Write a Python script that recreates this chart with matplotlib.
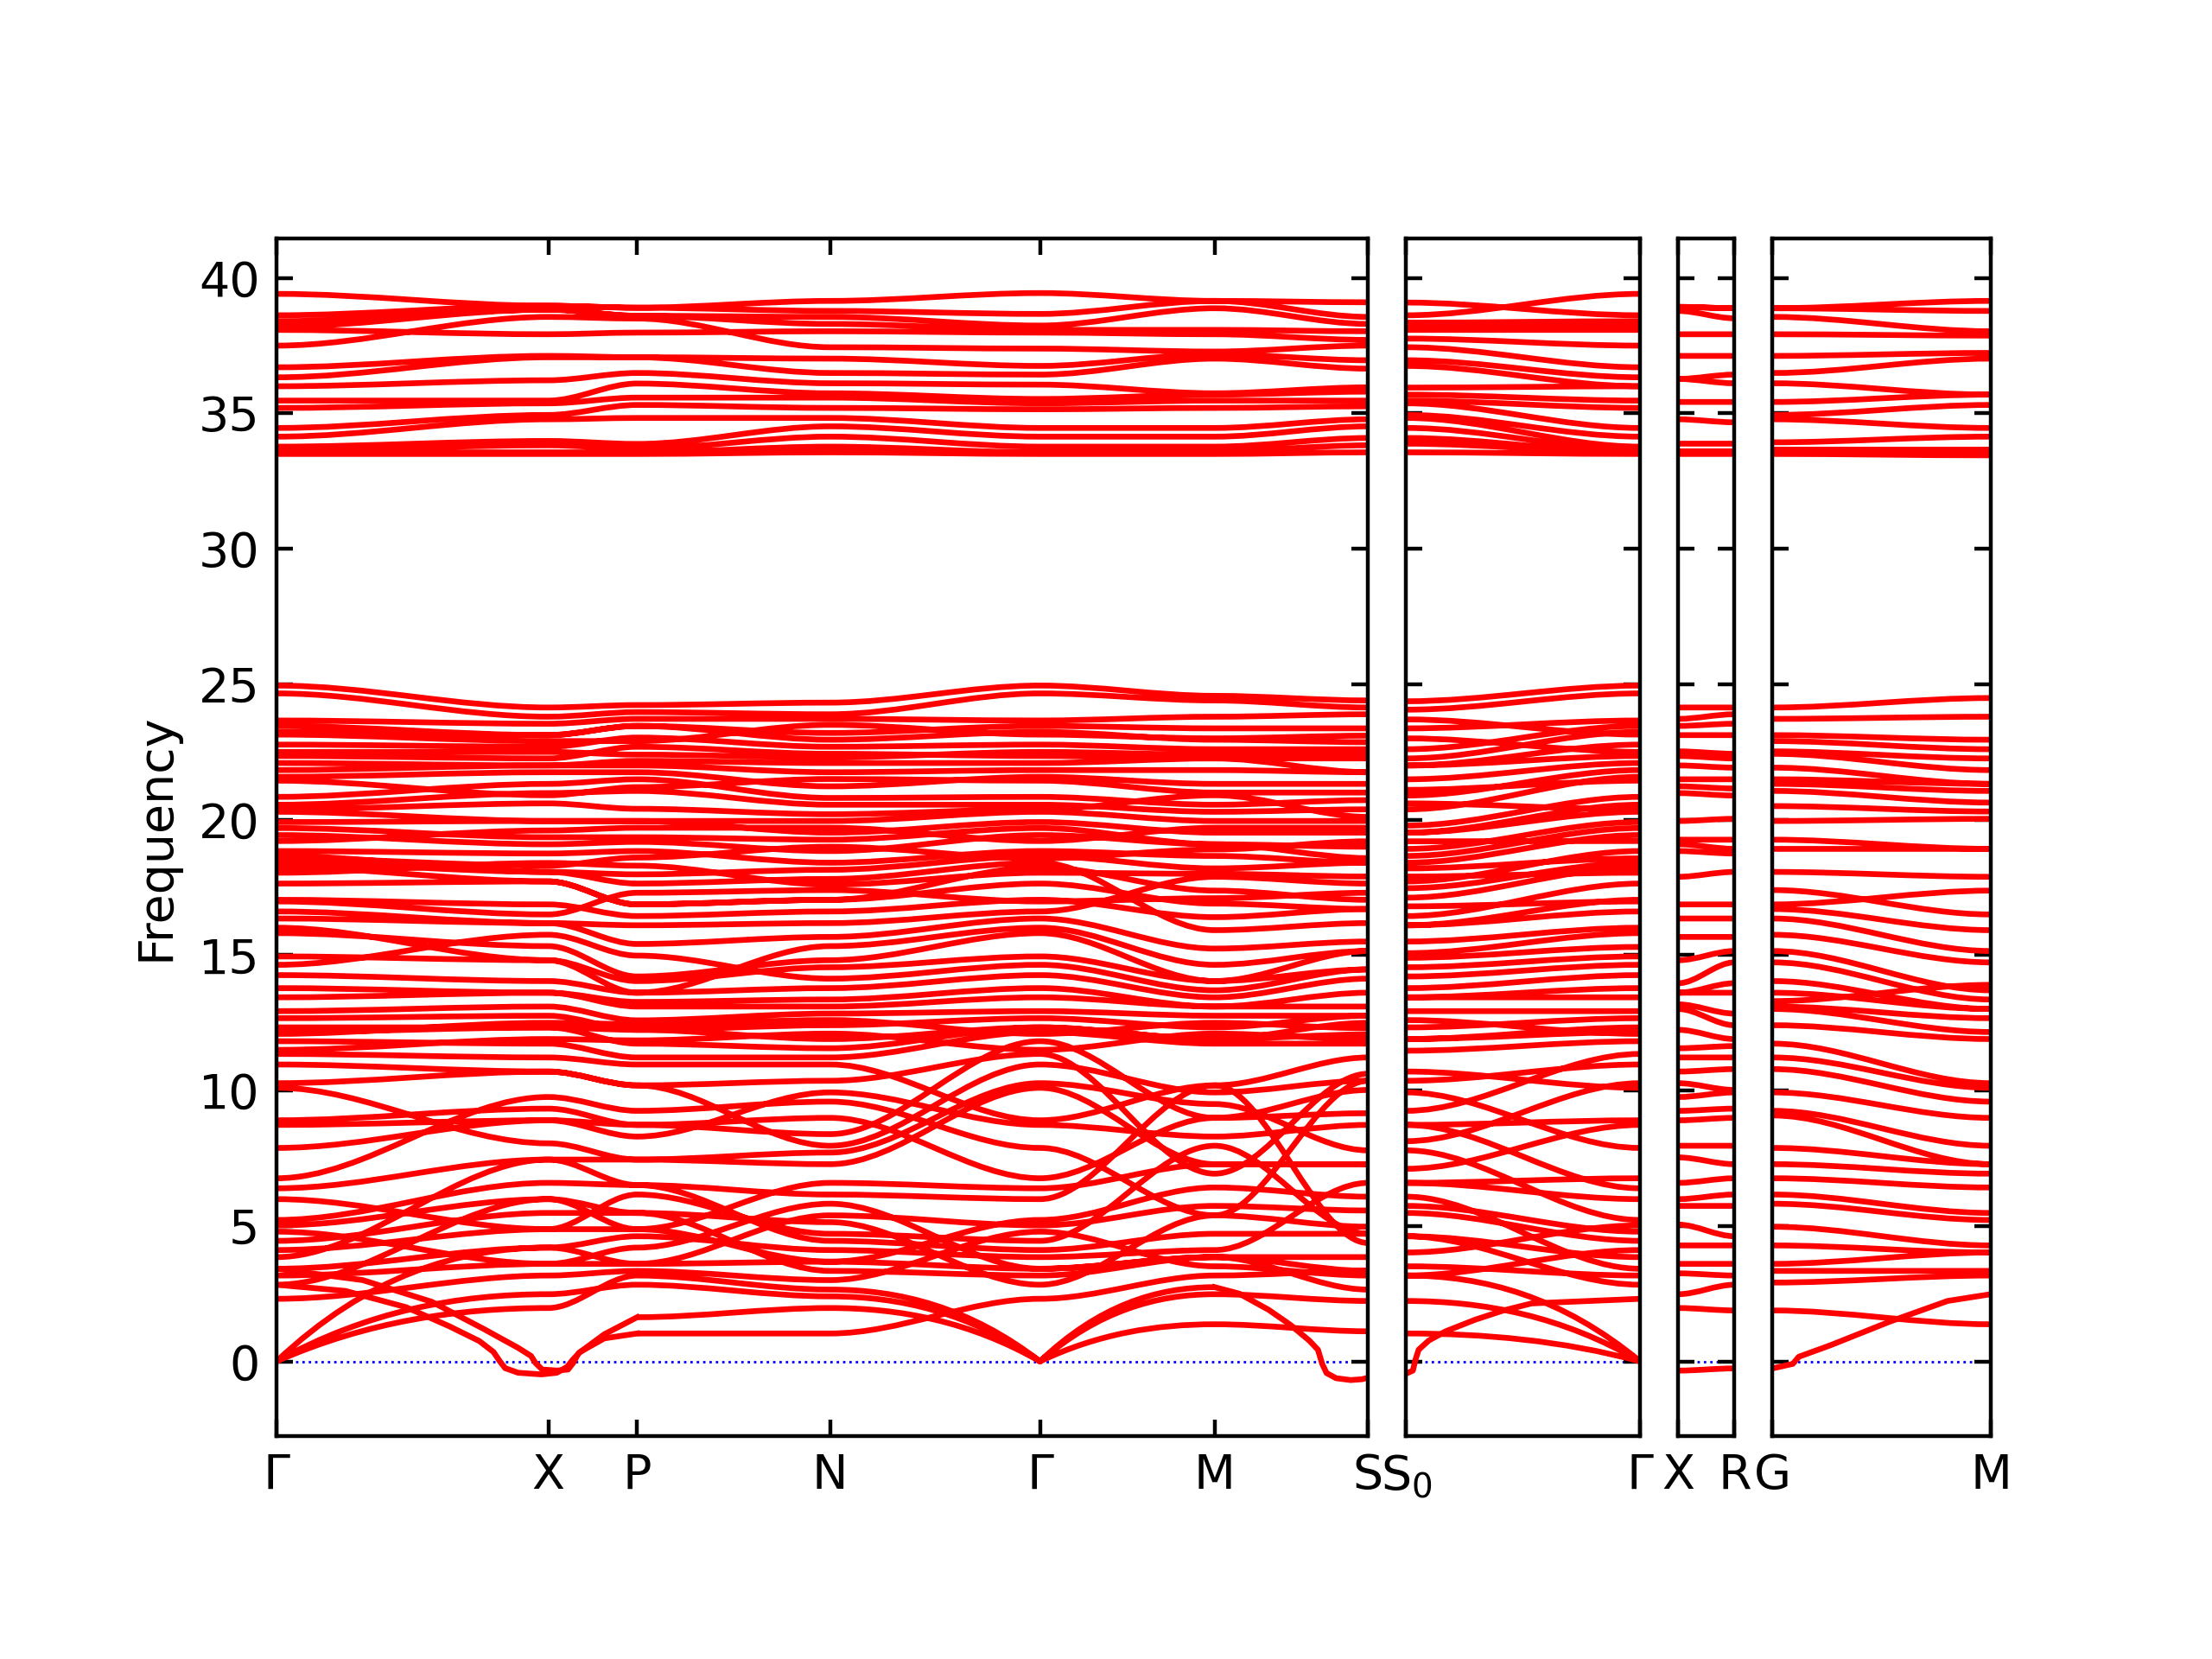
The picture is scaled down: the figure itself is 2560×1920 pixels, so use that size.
import matplotlib
matplotlib.use("Agg")
import matplotlib.pyplot as plt
from matplotlib.gridspec import GridSpec
from matplotlib.path import Path
from matplotlib.patches import PathPatch

nan = float("nan")

# ---------------- high-symmetry points (path distance) and labels ----------------
P1_TICKS = [0.0, 0.193, 0.256, 0.393, 0.542, 0.666, 0.775]
P1_LABELS = ["Γ", "X", "P", "N", "Γ", "M", "S"]
P2_TICKS = [0.0, 0.166]
P2_LABELS = ["S$_0$", "Γ"]
P3_TICKS = [0.0, 0.040]
P3_LABELS = ["X", "R"]
P4_TICKS = [0.0, 0.155]
P4_LABELS = ["G", "M"]

# ---------------- panel 1 bands: frequency at Γ, X, P, N, Γ, M, S ----------------
P1_BANDS = [
    [nan, nan, 1.03, 1.03, 2.31, 3.17, 3.34],
    [nan, nan, 1.63, 1.97, 0.0, 1.37, 1.11],
    [0.0, 2.48, 2.83, 2.40, 0.0, 2.74, nan],
    [0.0, 1.97, 3.17, 2.65, 0.0, 2.48, 2.23],
    [0.0, 4.20, 3.60, 3.68, 3.42, 3.85, 2.65],
    [2.31, 3.17, 3.34, 3.00, 4.79, 3.51, 3.17],
    [2.83, 5.99, 5.48, 3.34, 3.17, 3.85, 3.34],
    [3.17, 3.60, 4.20, 5.82, 3.42, 3.85, 3.85],
    [3.42, 4.20, 4.62, 4.11, 3.85, 4.11, 6.59],
    [3.85, 7.45, 6.51, 4.45, 4.11, 4.71, 4.71],
    [4.11, 4.88, 6.16, 4.71, 4.45, 7.96, 4.71],
    [4.45, 5.48, 5.48, 5.14, 2.83, 5.39, 4.97],
    [4.79, 3.60, 3.60, 5.39, 5.02, 5.74, 5.57],
    [5.02, 5.99, 4.88, 3.68, 5.22, 6.42, 6.08],
    [5.22, 6.59, 6.51, 6.16, 5.99, 10.19, 4.37],
    [5.99, 4.88, 4.88, 6.59, 6.39, 7.28, 7.28],
    [6.39, 7.45, 7.45, 7.28, 10.10, 7.28, 7.28],
    [6.76, 9.76, 9.25, 9.59, 7.88, 5.39, 10.36],
    [7.88, 8.90, 8.30, 9.93, 8.73, 8.30, 8.73],
    [8.73, 8.90, 8.73, 8.39, 11.82, 8.99, 9.16],
    [8.90, 9.33, 8.73, 8.99, 6.76, 8.99, 10.02],
    [10.10, 8.05, 7.45, 7.71, 10.27, 9.50, 7.79],
    [10.27, 10.70, 10.19, 7.96, 10.96, 9.93, 10.36],
    [10.96, 10.70, 10.19, 10.36, 11.35, 6.93, 10.62],
    [11.35, 11.22, 10.96, 10.96, 8.90, 10.19, 11.22],
    [11.50, 11.90, 11.85, 12.10, 11.50, 12.10, 11.90],
    [11.82, 11.73, 11.22, 11.22, 12.16, 11.73, 11.73],
    [12.09, 12.50, 12.45, 12.60, 12.09, 12.50, 12.30],
    [12.16, 12.33, 11.73, 11.56, 12.33, 11.90, 12.07],
    [12.33, 12.33, 12.24, 11.90, 12.33, 11.90, 12.50],
    [12.67, 12.76, 12.24, 12.41, 12.67, 12.33, 12.76],
    [12.93, 13.10, 12.59, 12.84, 12.93, 12.76, 12.76],
    [13.44, 13.61, 13.10, 13.10, 13.44, 13.10, 13.10],
    [13.78, 13.61, 13.27, 13.36, 13.78, 13.10, 13.61],
    [14.26, 14.04, 13.61, 13.78, 14.26, 13.44, 14.13],
    [14.64, 15.75, 14.98, 14.13, 14.64, 13.70, 14.47],
    [14.95, 14.81, 14.04, 14.55, 14.95, 14.04, 14.47],
    [15.81, 15.33, 14.21, 14.81, 15.81, 14.04, 15.15],
    [16.01, 14.81, 13.61, 15.33, 16.01, 14.64, 15.15],
    [16.35, 16.18, 15.41, 15.67, 16.35, 15.24, 15.50],
    [16.61, 16.18, 16.10, 16.18, 16.61, 17.89, 17.64],
    [16.98, 16.50, 17.30, 17.40, 16.98, 17.10, 17.30],
    [17.04, 16.87, 16.44, 16.61, 17.04, 16.40, 16.70],
    [17.64, 17.72, 16.87, 17.04, 17.64, 16.90, 16.70],
    [18.04, 18.40, 18.30, 17.60, 18.04, 18.00, 17.90],
    [18.24, 17.72, 16.87, 17.04, 18.24, 17.38, 17.04],
    [18.41, 18.07, 17.64, 17.81, 18.41, 15.92, 16.18],
    [18.57, 18.30, 18.60, 19.00, 18.57, 18.90, 19.20],
    [18.66, 18.07, 17.98, 18.15, 18.66, 18.20, 18.41],
    [18.84, 18.75, 18.84, 18.41, 18.84, 18.66, 18.41],
    [19.21, 19.60, 19.70, 19.70, 19.21, 19.70, 19.70],
    [19.43, 19.09, 19.18, 18.84, 19.43, 19.09, 18.58],
    [19.69, 19.35, 19.35, 19.26, 19.69, 19.09, 19.00],
    [19.91, 19.95, 19.95, 19.52, 19.91, 19.52, 19.52],
    [20.29, 19.95, 19.95, 19.95, 20.29, 19.95, 19.95],
    [20.38, 20.60, 20.40, 20.20, 20.38, 20.90, 20.10],
    [20.55, 20.98, 21.06, 20.55, 20.55, 20.29, 20.38],
    [20.84, 21.32, 21.49, 20.80, 20.84, 20.55, 20.72],
    [21.44, 20.90, 21.20, 21.50, 21.44, 21.00, 21.00],
    [21.58, 21.75, 21.75, 21.23, 21.58, 21.32, 21.32],
    [21.83, 22.00, 22.00, 21.75, 21.83, 21.83, 21.75],
    [22.09, 22.00, 22.17, 22.09, 22.09, 22.26, 21.75],
    [22.35, 22.26, 22.69, 22.43, 22.35, 22.26, 22.26],
    [22.50, 22.50, 22.40, 22.30, 22.50, 22.40, 22.40],
    [22.77, 22.69, 23.03, 22.69, 22.77, 22.60, 22.60],
    [23.14, 22.90, 22.90, 23.50, 23.14, 23.00, 23.10],
    [23.24, 23.12, 23.46, 22.95, 23.24, 22.95, 22.86],
    [23.46, 23.12, 23.46, 23.20, 23.46, 23.37, 23.37],
    [23.66, 23.54, 23.72, 23.72, 23.66, 23.80, 23.89],
    [24.66, 23.80, 23.97, 23.89, 24.66, 24.40, 24.14],
    [24.95, 24.14, 24.23, 24.32, 24.95, 24.57, 24.40],
    # upper group
    [33.50, 33.50, 33.50, 33.56, 33.50, 33.50, 33.56],
    [33.56, 33.56, 33.56, 33.77, 33.56, 33.60, 33.82],
    [33.65, 33.82, 33.70, 34.14, 33.77, 33.77, 34.09],
    [33.77, 33.98, 33.87, 34.52, 34.14, 34.14, 34.52],
    [34.14, 34.78, 34.83, 34.83, 34.46, 34.46, 34.78],
    [34.46, 34.94, 35.31, 35.20, 35.15, 35.20, 35.26],
    [35.20, 35.37, 35.58, 35.58, 35.37, 35.47, 35.47],
    [35.47, 35.47, 36.10, 35.74, 35.53, 35.69, 35.80],
    [36.00, 36.22, 36.49, 36.11, 36.06, 35.74, 35.96],
    [36.33, 37.07, 37.07, 36.49, 36.43, 37.02, 36.65],
    [36.70, 37.12, 37.07, 37.02, 36.75, 37.18, 36.96],
    [37.50, 38.56, 38.50, 37.44, 37.39, 37.28, 37.50],
    [38.08, 37.92, 37.98, 38.03, 37.98, 37.92, 37.71],
    [38.20, 38.83, 38.60, 38.30, 38.08, 38.08, 38.03],
    [38.40, 38.83, 38.60, 38.56, 38.24, 38.88, 38.30],
    [38.62, 38.97, 38.90, 38.78, 38.67, 39.15, 38.56],
    [39.41, 38.97, 38.90, 39.15, 39.44, 39.15, 39.10],
]

# special (soft-mode) branches of panel 1: path distance, frequency
P1_SOFT_A_Q = [0.0, 0.049, 0.092, 0.1225, 0.144, 0.154, 0.1586, 0.1623, 0.1715,
               0.188, 0.199, 0.2064, 0.2101, 0.2156, 0.2327, 0.256]
P1_SOFT_A_F = [2.83, 2.60, 2.00, 1.30, 0.75, 0.35, 0.00, -0.25, -0.42,
               -0.48, -0.42, -0.20, 0.05, 0.35, 0.85, 1.03]
P1_SOFT_B_Q = [0.0, 0.0612, 0.1102, 0.147, 0.1715, 0.1807, 0.1837, 0.1886,
               0.1991, 0.207, 0.2107, 0.2144, 0.2327, 0.256]
P1_SOFT_B_F = [3.42, 3.00, 2.20, 1.20, 0.50, 0.20, -0.05, -0.30,
               -0.34, -0.30, -0.05, 0.30, 1.00, 1.63]
P1_SOFT_C_Q = [0.666, 0.6835, 0.7044, 0.7197, 0.7331, 0.7393, 0.7423, 0.7454,
               0.7521, 0.7625, 0.7705, 0.775]
P1_SOFT_C_F = [2.74, 2.50, 1.90, 1.35, 0.77, 0.43, -0.09, -0.43,
               -0.62, -0.69, -0.66, -0.60]

# ---------------- panel 2 (S0 -> Γ) ----------------
P2_S0 = [1.03, 2.23, 3.17,
         3.17, 3.51, 4.02, 4.62, 4.62, 5.48, 5.74, 6.08, 6.59, 6.59, 7.11, 7.79,
         8.13, 8.73, 8.73, 9.25, 9.93, 10.36, 10.70, 11.47, 11.90, 11.90, 12.33,
         12.93, 13.44, 13.44, 13.78, 14.21, 14.55, 15.07, 15.50, 16.10, 16.10,
         16.44, 17.12, 17.47, 17.72, 18.41, 18.66, 18.92, 19.52, 19.52, 19.78,
         20.38, 20.89, 21.49, 22.00, 22.00, 22.26, 22.60, 23.37, 24.06, 24.37,
         12.60, 14.90, 16.80, 17.90, 18.20, 19.20, 20.60, 21.10, 23.00, 23.70,
         33.56, 33.88, 34.09, 34.46, 34.83, 34.94, 35.37, 35.47, 35.69, 35.95,
         36.75, 36.96, 37.44, 37.76, 38.08, 38.19, 38.35, 38.62, 39.09]
P2_GAMMA = [0.0, 0.0, 0.0,
            4.11, 3.17, 5.02, 3.85, 2.83, 4.45, 4.79, 3.42, 6.76, 5.99, 8.73, 5.22,
            10.27, 6.39, 8.90, 11.35, 7.88, 10.96, 10.10, 11.82, 12.16, 12.33, 12.67,
            12.93, 13.44, 13.78, 14.26, 14.64, 14.95, 15.81, 16.01, 16.61, 17.04,
            17.64, 18.24, 18.41, 18.84, 19.43, 19.69, 19.91, 20.29, 20.55, 20.84,
            21.58, 21.83, 22.09, 22.35, 22.77, 23.24, 23.46, 23.66, 24.66, 24.95,
            12.09, 15.30, 16.98, 18.04, 18.57, 19.21, 20.38, 21.44, 22.50, 23.14,
            33.50, 33.56, 33.56, 33.65, 33.77, 34.14, 34.46, 35.20, 35.47, 36.00,
            36.00, 36.33, 36.70, 37.50, 38.08, 38.20, 38.40, 39.41, 38.62]
P2_SOFT_Q = [0.0, 0.0047, 0.0067, 0.0088, 0.016, 0.028, 0.049, 0.069, 0.089, 0.166]
P2_SOFT_F = [-0.45, -0.34, 0.09, 0.43, 0.77, 1.11, 1.54, 1.88, 2.14, 2.31]

# ---------------- panel 3 (X -> R) ----------------
P3_X = [-0.34,
        1.97, 2.48, 3.25, 3.60, 4.28, 5.05, 5.74, 5.99, 6.59, 7.53, 7.96, 8.90,
        9.25, 9.76, 10.27, 10.70, 11.22, 11.56, 12.24, 13.01, 13.18, 13.61, 13.61,
        13.96, 14.81, 15.67, 16.35, 16.87, 17.89, 18.84, 19.09, 19.26, 19.95,
        20.98, 21.23, 21.49, 22.00, 22.35, 22.52, 23.12, 23.46, 23.72, 24.14,
        33.50, 33.60, 33.88, 34.78, 35.42, 36.27, 36.27, 37.12, 37.92, 38.78,
        38.93, 38.93]
P3_R = [-0.26,
        1.88, 2.83, 3.17, 3.60, 4.28, 4.62, 5.74, 6.16, 6.76, 7.28, 7.96, 8.99,
        9.33, 9.93, 10.02, 10.79, 11.22, 11.64, 11.90, 12.41, 12.84, 13.61, 13.96,
        14.73, 15.15, 15.67, 16.35, 16.87, 18.07, 18.75, 18.92, 19.26, 20.03,
        20.89, 21.15, 21.49, 21.92, 22.26, 22.43, 23.12, 23.54, 23.89, 24.14,
        33.50, 33.60, 33.88, 34.67, 35.42, 36.11, 36.43, 37.12, 37.92, 38.51,
        38.88, 38.88]

# ---------------- panel 4 (G -> M) ----------------
P4_G = [1.88, 2.91, 3.34, 3.60, 4.28, 4.97, 5.82, 6.16, 6.76, 7.28, 7.88, 9.08,
        9.25, 9.93, 10.79, 11.22, 11.73, 12.41, 13.01, 13.10, 13.61, 14.04, 14.73,
        15.15, 15.75, 16.35, 16.70, 16.87, 18.07, 18.92, 19.26, 19.95, 21.06,
        21.32, 21.49, 21.92, 22.43, 22.52, 23.12, 23.72, 24.14,
        13.30, 17.40, 20.50, 22.90,
        33.50, 33.66, 33.93, 34.78, 34.94, 35.42, 36.11, 36.49, 37.12, 37.92,
        38.56, 38.88, 38.88]
P4_M = [1.37, 3.17, 3.34, 4.02, 4.02, 4.28, 5.22, 5.48, 6.42, 6.93, 7.28, 7.28,
        7.96, 8.99, 9.59, 10.10, 10.27, 11.90, 12.16, 12.67, 13.01, 13.01, 13.36,
        13.70, 14.73, 15.15, 15.92, 17.38, 17.89, 18.92, 18.92, 20.03, 20.63,
        21.06, 21.32, 21.32, 21.83, 22.26, 22.95, 23.80, 24.49,
        13.90, 16.50, 20.30, 22.60,
        33.45, 33.66, 34.14, 34.46, 35.31, 35.69, 35.69, 37.02, 37.23, 37.87,
        38.03, 38.78, 39.15]
P4_SOFT_Q = [0.0, 0.0145, 0.0187, 0.0414, 0.0829, 0.1243, 0.155]
P4_SOFT_F = [-0.26, -0.09, 0.17, 0.60, 1.46, 2.23, 2.48]

YLIM = (-2.75, 41.44)
BAND_COLOR = "red"
BAND_LW = 1.2


def band_patch(xs, rows):
    """Smooth band curves through the node values (flat at zone points,
    linear start for acoustic branches at zero)."""
    verts, codes = [], []
    for row in rows:
        started = False
        for i in range(len(xs) - 1):
            y0, y1 = row[i], row[i + 1]
            if y0 != y0 or y1 != y1:
                started = False
                continue
            x0, x1 = xs[i], xs[i + 1]
            dx = x1 - x0
            c0 = y0 + 0.75 * (y1 - y0) if y0 == 0.0 else y0
            c1 = y1 + 0.75 * (y0 - y1) if y1 == 0.0 else y1
            if not started:
                verts.append((x0, y0))
                codes.append(Path.MOVETO)
                started = True
            verts += [(x0 + dx / 3, c0), (x1 - dx / 3, c1), (x1, y1)]
            codes += [Path.CURVE4] * 3
    return PathPatch(Path(verts, codes), facecolor="none", edgecolor=BAND_COLOR,
                     lw=BAND_LW, joinstyle="round", zorder=2)


fig = plt.figure(figsize=(6.4, 4.8), dpi=400)
widths = [P1_TICKS[-1], P2_TICKS[-1], P3_TICKS[-1], P4_TICKS[-1]]
gs = GridSpec(1, 4, width_ratios=widths, wspace=0.095,
              left=0.125, right=0.9, bottom=0.1345, top=0.856, figure=fig)
axes = [fig.add_subplot(gs[0, i]) for i in range(4)]

panels = [
    (P1_TICKS, P1_LABELS, P1_BANDS),
    (P2_TICKS, P2_LABELS, [list(r) for r in zip(P2_S0, P2_GAMMA)]),
    (P3_TICKS, P3_LABELS, [list(r) for r in zip(P3_X, P3_R)]),
    (P4_TICKS, P4_LABELS, [list(r) for r in zip(P4_G, P4_M)]),
]

for ax, (ticks, labels, rows) in zip(axes, panels):
    ax.axhline(0.0, color="blue", linestyle=":", linewidth=0.5, zorder=1)
    ax.add_patch(band_patch(ticks, rows))
    ax.set_xlim(ticks[0], ticks[-1])
    ax.set_ylim(*YLIM)
    ax.set_xticks(ticks)
    ax.set_xticklabels(labels)
    ax.set_yticks(range(0, 41, 5))
    ax.tick_params(axis="both", direction="in", top=True, bottom=True,
                   left=True, right=True, labelsize=10)

axes[0].plot(P1_SOFT_A_Q, P1_SOFT_A_F, color=BAND_COLOR, lw=BAND_LW, zorder=2)
axes[0].plot(P1_SOFT_B_Q, P1_SOFT_B_F, color=BAND_COLOR, lw=BAND_LW, zorder=2)
axes[0].plot(P1_SOFT_C_Q, P1_SOFT_C_F, color=BAND_COLOR, lw=BAND_LW, zorder=2)
axes[1].plot(P2_SOFT_Q, P2_SOFT_F, color=BAND_COLOR, lw=BAND_LW, zorder=2)
axes[3].plot(P4_SOFT_Q, P4_SOFT_F, color=BAND_COLOR, lw=BAND_LW, zorder=2)

axes[0].set_ylabel("Frequency", fontsize=10)
for ax in axes[1:]:
    ax.tick_params(labelleft=False)

fig.savefig("out.png", dpi=400)
